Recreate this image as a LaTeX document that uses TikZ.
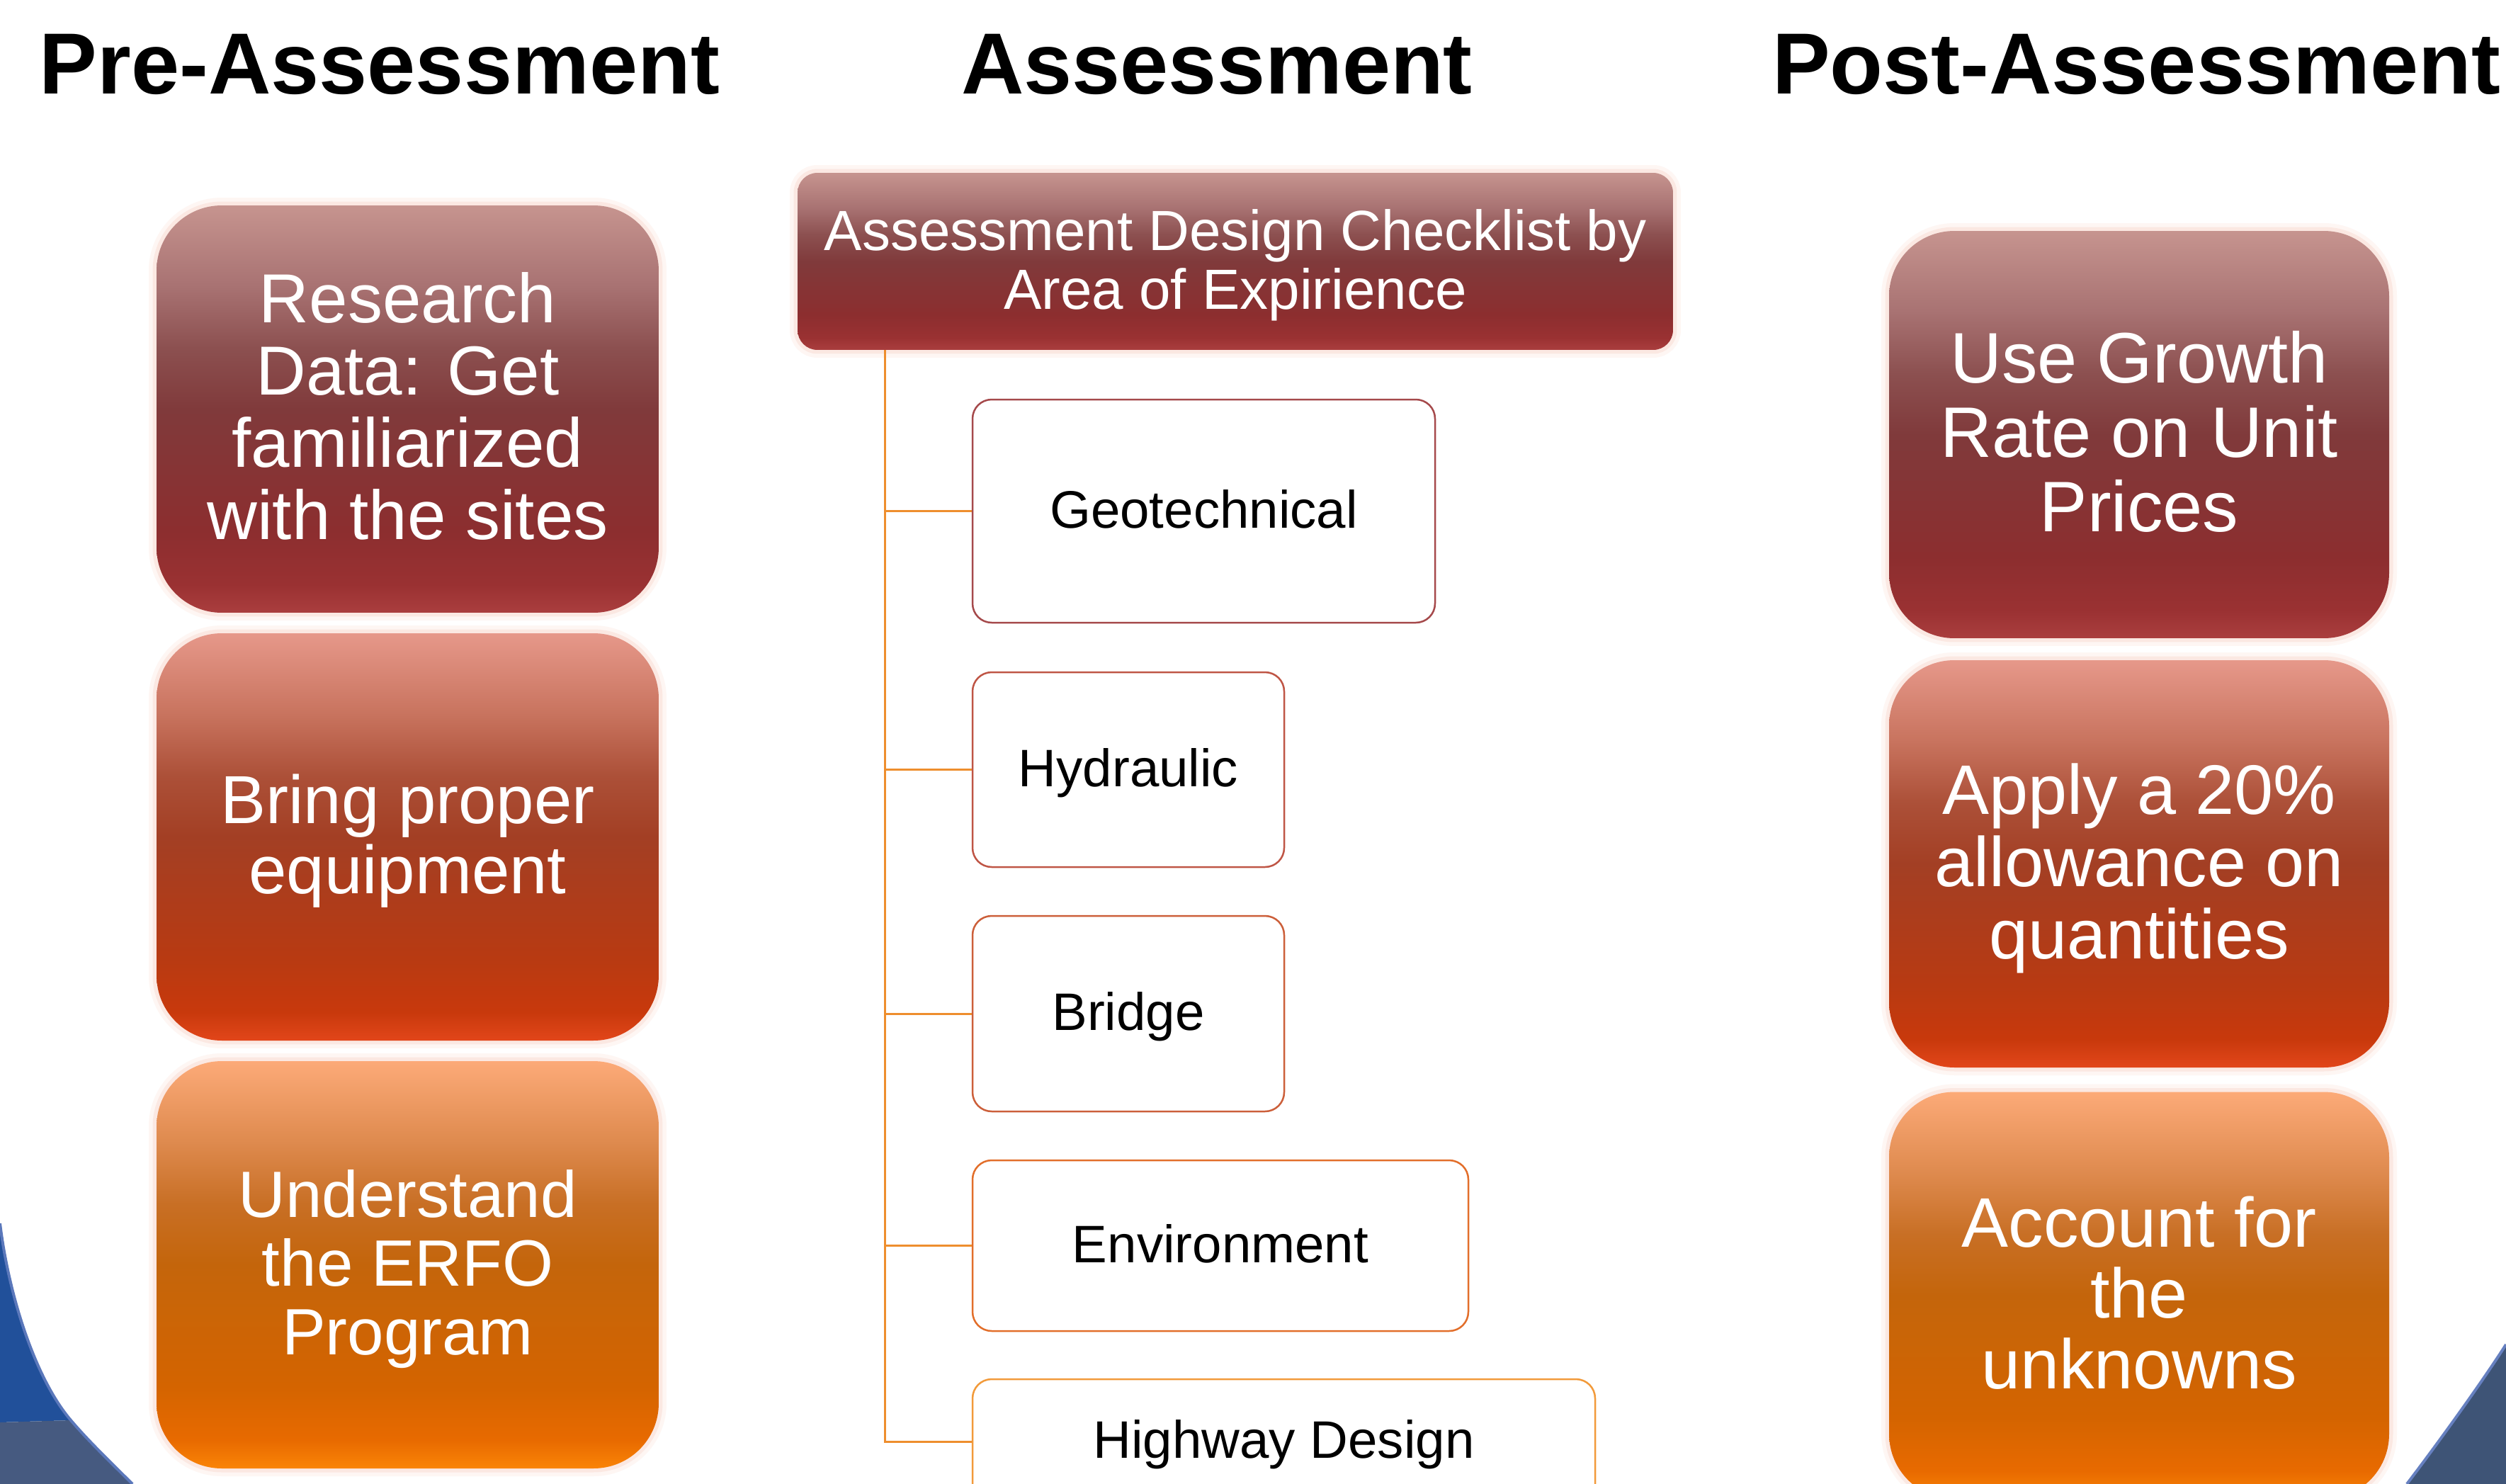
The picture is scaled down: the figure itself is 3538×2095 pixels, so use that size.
\documentclass[tikz,border=0pt]{standalone}
\usepackage{fontspec}
\setmainfont{Liberation Sans}
% dark red gradient
\definecolor{rA}{HTML}{AA3E3E}\definecolor{rB}{HTML}{9A3132}\definecolor{rC}{HTML}{8C2E2F}
\definecolor{rD}{HTML}{803A3B}\definecolor{rE}{HTML}{8C5050}\definecolor{rF}{HTML}{A87272}\definecolor{rG}{HTML}{C6948F}
% red-orange gradient
\definecolor{oA}{HTML}{E2461A}\definecolor{oB}{HTML}{C8390C}\definecolor{oC}{HTML}{B83A12}
\definecolor{oD}{HTML}{A33F24}\definecolor{oE}{HTML}{AC5038}\definecolor{oF}{HTML}{C8735E}\definecolor{oG}{HTML}{E6988A}
% orange gradient
\definecolor{gA}{HTML}{FA8406}\definecolor{gB}{HTML}{E86A00}\definecolor{gC}{HTML}{D46400}
\definecolor{gD}{HTML}{C4650B}\definecolor{gE}{HTML}{C86F25}\definecolor{gF}{HTML}{DE8A4E}\definecolor{gG}{HTML}{FCAA78}
\definecolor{glowA}{HTML}{FBE8E2}\definecolor{glowB}{HTML}{FEF6F3}
\definecolor{cgeo}{HTML}{A5494B}\definecolor{chyd}{HTML}{BF5545}\definecolor{cbri}{HTML}{CC5F3A}
\definecolor{cenv}{HTML}{E26E2A}\definecolor{chwy}{HTML}{F29A3A}\definecolor{cconn}{HTML}{EE8E2E}
\definecolor{blueA}{HTML}{21509A}\definecolor{blueBand}{HTML}{465A80}\definecolor{blueEdge}{HTML}{5B78BB}
\definecolor{blueR}{HTML}{3E5476}\definecolor{blueREdge}{HTML}{6680C0}
\pgfdeclareverticalshading{redgrad}{100bp}{color(0bp)=(rA); color(25bp)=(rA); color(28.5bp)=(rB); color(35bp)=(rC); color(50bp)=(rD); color(57.5bp)=(rE); color(65bp)=(rF); color(75bp)=(rG); color(100bp)=(rG)}
\pgfdeclareverticalshading{rorgrad}{100bp}{color(0bp)=(oA); color(25bp)=(oA); color(28.5bp)=(oB); color(35bp)=(oC); color(50bp)=(oD); color(57.5bp)=(oE); color(65bp)=(oF); color(75bp)=(oG); color(100bp)=(oG)}
\pgfdeclareverticalshading{orgrad}{100bp}{color(0bp)=(gA); color(25bp)=(gA); color(28.5bp)=(gB); color(35bp)=(gC); color(50bp)=(gD); color(57.5bp)=(gE); color(65bp)=(gF); color(75bp)=(gG); color(100bp)=(gG)}
% fixed line-box height/depth so that text centres like the original slide
\newcommand{\bx}[1]{\rule{0pt}{0.9em}#1\rule[-0.26em]{0pt}{0.26em}}
\tikzset{
  glow/.style={preaction={draw=glowB,line width=2.2pt}, preaction={draw=glowA,line width=1.1pt}},
  bigbox/.style={rectangle, rounded corners=9.2pt, minimum height=57.5pt, inner sep=0pt,
    text=white, align=center, glow},
  leftbox/.style={bigbox, minimum width=70.9pt},
  rightbox/.style={bigbox, minimum width=70.6pt},
  fs/.style 2 args={font=\fontsize{#1}{#2}\selectfont},
  titletext/.style={inner sep=0pt, anchor=base, font=\bfseries\fontsize{12.25}{14}\selectfont},
  topbox/.style={rectangle, rounded corners=2.8pt, minimum width=123.6pt, minimum height=25pt, inner sep=0pt,
    text=white, align=center, fs={8}{8.3}, glow, shading=redgrad},
  subbox/.style={rectangle, rounded corners=2.7pt, fill=white, line width=0.25pt, inner sep=0pt,
    align=center, fs={7.45}{8}},
  conn/.style={draw=cconn, line width=0.3pt}
}
\begin{document}
\begin{tikzpicture}[x=0.1pt,y=-0.1pt]
\useasboundingbox (0,0) rectangle (3538,2095);
\clip (0,0) rectangle (3538,2095);
\fill[white] (0,0) rectangle (3538,2095);
% blue background corners
\fill[blueA] (0,1727) .. controls (12,1827) and (49,1945) .. (100,2005) -- (0,2008) -- cycle;
\fill[blueBand] (0,2008) -- (100,2005) .. controls (125.5,2035) and (157,2065) .. (187,2095) -- (0,2095) -- cycle;
\draw[blueEdge, line width=0.4pt] (0,1727) .. controls (12,1827) and (49,1945) .. (100,2005)
   .. controls (125.5,2035) and (157,2065) .. (187,2095);
\fill[blueR] (3538,1898) .. controls (3505,1950) and (3440,2040) .. (3398,2095) -- (3538,2095) -- cycle;
\draw[blueREdge, line width=0.4pt] (3538,1898) .. controls (3505,1950) and (3440,2040) .. (3398,2095);
% titles
\node[titletext] (tpre) at (536,133) {Pre-Assessment};
\node[titletext] (tass) at (1718,133) {Assessment};
\node[titletext] (tpost) at (3016,133) {Post-Assessment};
% left column
\node[leftbox, shading=redgrad, fs={9.8}{10.2}] (pre1) at (575.5,577.5) {\bx{Research\\Data: Get\\familiarized\\with the sites}};
\node[leftbox, shading=rorgrad, fs={9.6}{9.9}] (pre2) at (575.5,1181.5) {\bx{Bring proper\\equipment}};
\node[leftbox, shading=orgrad, fs={9.25}{9.7}] (pre3) at (575.5,1785.5) {\bx{Understand\\the ERFO\\Program}};
% right column
\node[rightbox, shading=redgrad, fs={10.1}{10.5}] (post1) at (3020,613.5) {\bx{Use Growth\\Rate on Unit\\Prices}};
\node[rightbox, shading=rorgrad, fs={9.9}{10.2}] (post2) at (3020,1219.5) {\bx{Apply a 20\%\\allowance on\\quantities}};
\node[rightbox, shading=orgrad, fs={9.9}{10.0}] (post3) at (3020,1829) {\bx{Account for\\the\\unknowns}};
% middle column
\node[topbox] (chk) at (1744,369) {\bx{Assessment Design Checklist by\\Area of Expirience}};
\node[subbox, draw=cgeo, minimum width=65.3pt, minimum height=31.5pt] (geo) at (1699.5,721.5) {\bx{Geotechnical}};
\node[subbox, draw=chyd, minimum width=44pt, minimum height=27.5pt] (hyd) at (1593,1086.5) {\bx{Hydraulic}};
\node[subbox, draw=cbri, minimum width=44pt, minimum height=27.6pt] (bri) at (1593,1431) {\bx{Bridge}};
\node[subbox, draw=cenv, minimum width=70pt, minimum height=24.1pt] (env) at (1723,1758.5) {\bx{Environment}};
\node[subbox, draw=chwy, minimum width=87.9pt, minimum height=17.6pt] (hwy) at (1812.5,2035) {\bx{Highway Design}};
\coordinate (trunk) at (1249,494);
\draw[conn] (trunk) |- (geo.west);
\draw[conn] (trunk) |- (hyd.west);
\draw[conn] (trunk) |- (bri.west);
\draw[conn] (trunk) |- (env.west);
\draw[conn] (trunk) |- (hwy.west);
\end{tikzpicture}
\end{document}
